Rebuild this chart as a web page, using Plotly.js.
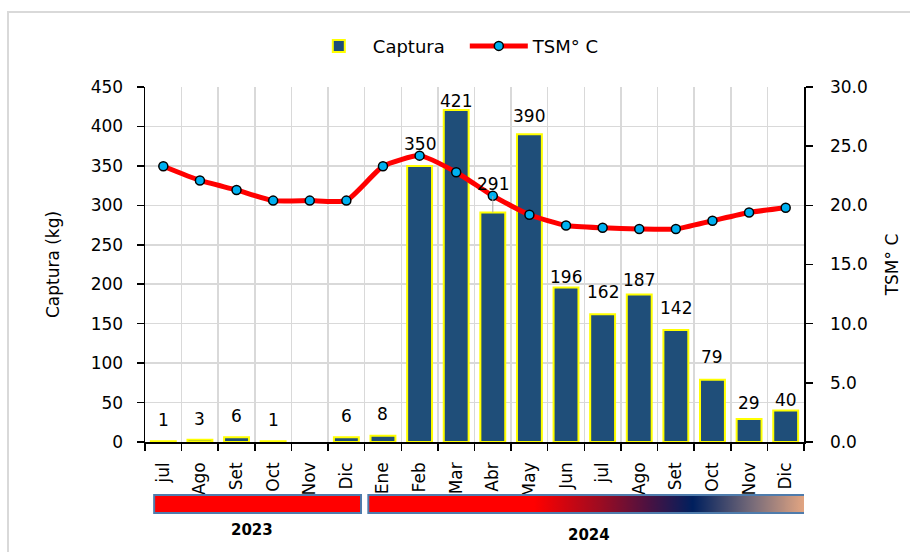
<!DOCTYPE html>
<html><head><meta charset="utf-8">
<script src="https://cdn.plot.ly/plotly-3.0.1.min.js"></script>
<style>html,body{margin:0;padding:0;background:#fff}#chart{width:910px;height:552px}</style>
</head><body><div id="chart"></div>
<script>
// ---- data ----
const months = ["jul","Ago","Set","Oct","Nov","Dic","Ene","Feb","Mar","Abr","May","Jun","jul","Ago","Set","Oct","Nov","Dic"];
const captura = [1,3,6,1,null,6,8,350,421,291,390,196,162,187,142,79,29,40];
const tsm = [23.3,22.1,21.3,20.4,20.4,20.4,23.3,24.2,22.8,20.8,19.2,18.3,18.1,18.0,18.0,18.7,19.4,19.8];
const years = ["2023","2024"];
const yearFirst = [0, 6];
const yearLast = [5, 17];

// ---- styling ----
const FONT = "DejaVu Sans, Lato, sans-serif";
const labelLift = [21,21,21,21,0,21,22,22,9,28,18,10,22,14,22,23,16,10];
const idx = months.map((m, i) => i);

const traces = [
  {
    type: "bar", name: "Captura", x: idx, y: captura, yaxis: "y",
    width: 0.68,
    marker: {color: "#1F4E79", line: {color: "#FFFF00", width: 2}},
    hoverinfo: "skip"
  },
  {
    type: "scatter", mode: "lines+markers", name: "TSM° C", x: idx, y: tsm, yaxis: "y2",
    line: {color: "#FF0000", width: 5, shape: "spline", smoothing: 0.5},
    marker: {color: "#00B0F0", size: 9, line: {color: "#000", width: 1.5}},
    hoverinfo: "skip"
  }
];

const annotations = [];
captura.forEach((v, i) => {
  if (v === null) return;
  annotations.push({
    x: i, y: v, xref: "x", yref: "y", text: String(v),
    showarrow: true, ax: 0, ay: -labelLift[i], arrowhead: 0, arrowwidth: 1,
    arrowcolor: (i === 9 ? "#a6a6a6" : "rgba(0,0,0,0)"),
    font: {family: FONT, size: 17, color: "#000"}
  });
});
const yearY = [-0.248, -0.262];
const yearDx = [-0.07, 0.12];
years.forEach((y, k) => {
  annotations.push({
    x: (yearFirst[k] + yearLast[k]) / 2 + yearDx[k], y: yearY[k], xref: "x", yref: "paper",
    xanchor: "center", yanchor: "middle",
    text: "<b>" + y + "</b>", showarrow: false,
    font: {family: FONT, size: 15, color: "#000"}
  });
});

// gradient image for 2024 band
const cv = document.createElement("canvas");
cv.width = 440; cv.height = 18;
const cx = cv.getContext("2d");
const g = cx.createLinearGradient(0, 0, 440, 0);
g.addColorStop(0, "#FF0000");
g.addColorStop(0.38, "#FF0000");
g.addColorStop(0.53, "#9C0C22");
g.addColorStop(0.64, "#4A1242");
g.addColorStop(0.74, "#00205E");
g.addColorStop(0.88, "#7C6E7A");
g.addColorStop(1, "#E8A882");
cx.fillStyle = g; cx.fillRect(0, 0, 440, 18);

const bandY0 = -0.149, bandY1 = -0.2;
const shapes = [
  {type: "rect", xref: "paper", yref: "paper", x0: -0.2079, x1: 1.3, y0: -0.4, y1: 1.2113,
   line: {color: "#d9d9d9", width: 2}, fillcolor: "rgba(0,0,0,0)", layer: "below"},
  {type: "rect", xref: "x", yref: "paper", x0: yearFirst[0] - 0.25, x1: yearLast[0] + 0.4, y0: bandY1, y1: bandY0,
   fillcolor: "#FF0000", line: {color: "#4F7CAC", width: 2}},
  {type: "rect", xref: "x", yref: "paper", x0: yearFirst[1] - 0.4, x1: yearLast[1] + 0.58, y0: bandY1, y1: bandY0,
   fillcolor: "rgba(0,0,0,0)", line: {color: "#4F7CAC", width: 2}}
];
const images = [
  {source: cv.toDataURL(), xref: "x", yref: "paper", x: yearFirst[1] - 0.4, y: bandY0,
   sizex: (yearLast[1] + 0.58) - (yearFirst[1] - 0.4), sizey: bandY0 - bandY1,
   sizing: "stretch", xanchor: "left", yanchor: "top", layer: "above"}
];

const layout = {
  width: 910, height: 552,
  margin: {l: 145, r: 106, t: 87, b: 110},
  paper_bgcolor: "#fff", plot_bgcolor: "#fff",
  font: {family: FONT, size: 17, color: "#000"},
  showlegend: true,
  legend: {orientation: "h", x: 0.2425, y: 1.115, xanchor: "left", yanchor: "middle",
           itemwidth: 58, entrywidth: 87, entrywidthmode: "pixels",
           font: {family: FONT, size: 18, color: "#000"}, traceorder: "normal"},
  xaxis: {
    type: "linear", range: [-0.5, 17.5], tickmode: "array", tickvals: idx, ticktext: months,
    tickangle: -90, ticks: "", showgrid: false, zeroline: false,
    showline: true, linecolor: "#000", linewidth: 1.5, ticklabelstandoff: 12,
    tickfont: {family: FONT, size: 17, color: "#000"},
    minor: {tick0: -0.5, dtick: 1, ticks: "outside", ticklen: 7, tickcolor: "#000", tickwidth: 1.5,
            showgrid: true, gridcolor: "#d9d9d9", gridwidth: 1.5},
    fixedrange: true
  },
  yaxis: {
    range: [0, 450], dtick: 50, tickmode: "linear", tick0: 0,
    showgrid: true, gridcolor: "#d9d9d9", gridwidth: 1.5, zeroline: false,
    showline: true, linecolor: "#000", linewidth: 1.5,
    ticks: "outside", ticklen: 7, tickcolor: "#000", tickwidth: 1.5, ticklabelstandoff: 10,
    tickfont: {family: FONT, size: 17, color: "#000"},
    title: {text: "Captura (kg)", font: {family: FONT, size: 17, color: "#000"}, standoff: 26},
    automargin: false
  },
  yaxis2: {
    range: [0, 30], dtick: 5, tickmode: "linear", tick0: 0, tickformat: ".1f",
    overlaying: "y", side: "right", showgrid: false, zeroline: false,
    showline: true, linecolor: "#000", linewidth: 1.5,
    ticks: "outside", ticklen: 7, tickcolor: "#000", tickwidth: 1.5, ticklabelstandoff: 14,
    tickfont: {family: FONT, size: 17, color: "#000"},
    title: {text: "TSM° C", font: {family: FONT, size: 17, color: "#000"}, standoff: 19},
    automargin: false
  },
  annotations: annotations,
  shapes: shapes,
  images: images,
  bargap: 0.32
};

Plotly.newPlot("chart", traces, layout, {displayModeBar: false, staticPlot: true});
</script>
</body></html>
